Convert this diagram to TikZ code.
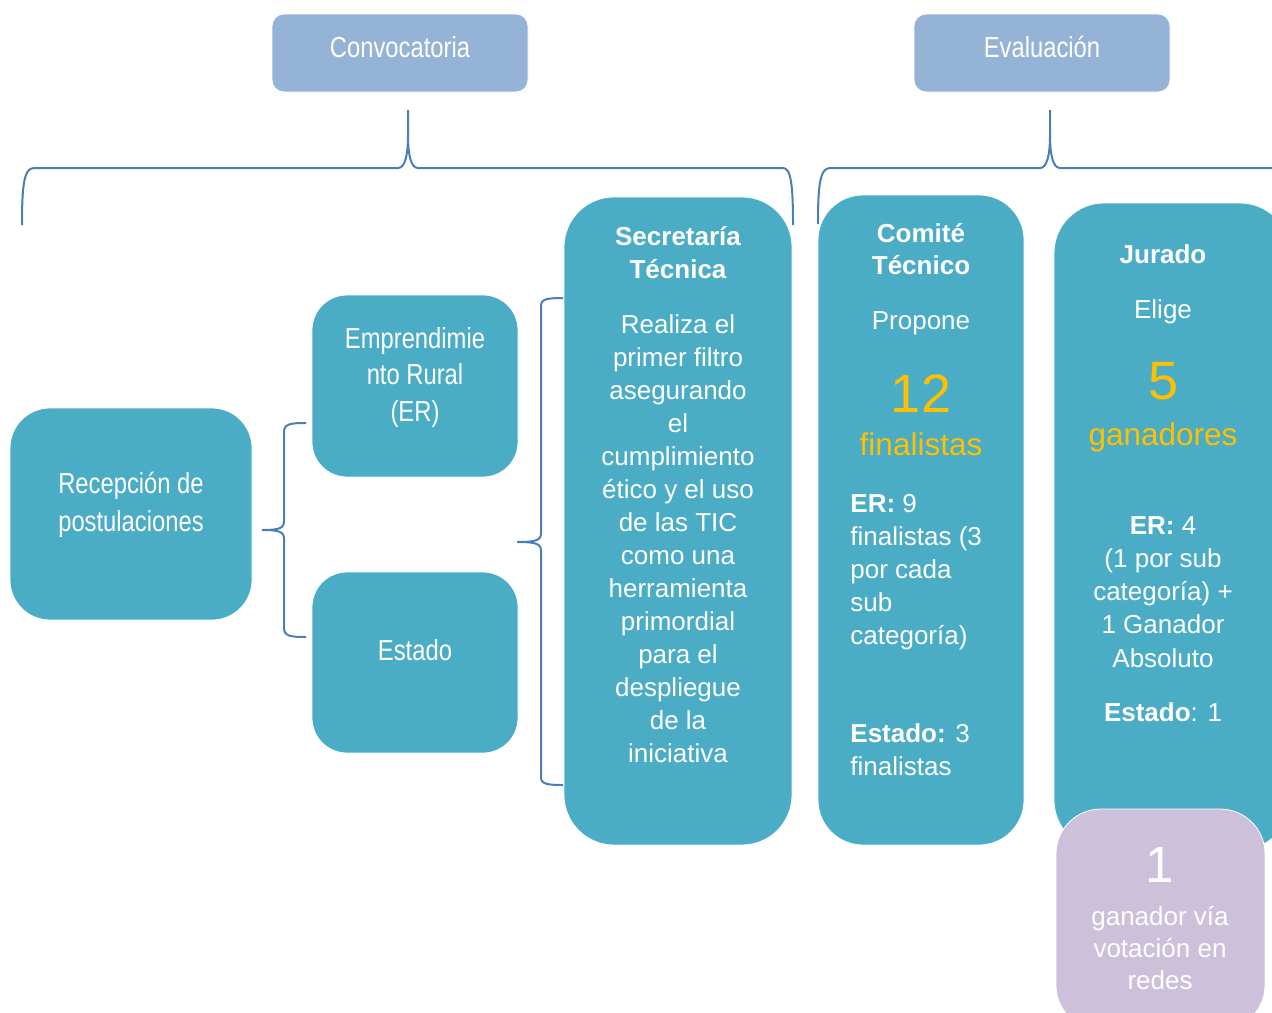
\documentclass[tikz,border=0pt]{standalone}
\usepackage{fontspec}
\setmainfont{Liberation Sans}
\newfontfamily\narrowfont[FakeStretch=0.82]{Liberation Sans}
\definecolor{boxteal}{HTML}{4BACC6}
\definecolor{headblue}{HTML}{95B3D7}
\definecolor{lilac}{HTML}{CCC0DA}
\definecolor{goldy}{HTML}{FFC000}
\definecolor{braceblue}{HTML}{4A7EBB}
\begin{document}
\begin{tikzpicture}[x=0.5pt,y=-0.5pt,
  tbox/.style={draw=white,line width=0.4pt,fill=boxteal,inner sep=0pt},
  hbox/.style={draw=white,line width=0.4pt,fill=headblue,inner sep=0pt,rounded corners=6pt,minimum width=128pt,minimum height=39pt},
  txt/.style={anchor=base,text=white,inner sep=0pt,font=\fontsize{13}{15}\selectfont},
  ltxt/.style={txt,anchor=base west},
  ntxt/.style={anchor=base,text=white,inner sep=0pt,font=\narrowfont\fontsize{14.5}{17}\selectfont},
  gtxt/.style={anchor=base,text=goldy,inner sep=0pt,font=\fontsize{15.75}{18}\selectfont},
  bignum/.style={anchor=base,inner sep=0pt,font=\fontsize{27}{30}\selectfont},
  brace/.style={draw=braceblue,line width=1pt}]
\useasboundingbox (0,0) rectangle (1272,1012);
\clip (0,0) rectangle (1272,1012);

% header boxes
\node[hbox] (conv) at (400,53) {};
\node[ntxt] (convt) at (400,57) {Convocatoria};
\node[hbox] (eval) at (1042,53) {};
\node[ntxt] (evalt) at (1042,57) {Evaluación};

% left boxes
\node[tbox,rounded corners=20pt,minimum width=121pt,minimum height=106pt] (rec) at (131,514) {};
\node[ntxt] (rect1) at (131,493) {Recepción de};
\node[ntxt] (rect2) at (131,531) {postulaciones};

\node[tbox,rounded corners=17.5pt,minimum width=103pt,minimum height=91pt] (emp) at (415,386) {};
\node[ntxt] (empt1) at (415,348) {Emprendimie};
\node[ntxt] (empt2) at (415,384) {nto Rural};
\node[ntxt] (empt3) at (415,421) {(ER)};

\node[tbox,rounded corners=17.5pt,minimum width=103pt,minimum height=90.5pt] (est) at (415,662.5) {};
\node[ntxt] (estt) at (415,660) {Estado};

% Secretaria
\node[tbox,rounded corners=25pt,minimum width=114pt,minimum height=324pt] (sec) at (678,521) {};
\node[txt,font=\bfseries\fontsize{13}{15}\selectfont] (sech1) at (678,245) {Secretaría};
\node[txt,font=\bfseries\fontsize{13}{15}\selectfont] (sech2) at (678,278) {Técnica};
\foreach \t [count=\i] in {{Realiza el},{primer filtro},{asegurando},{el},{cumplimiento},{ético y el uso},{de las TIC},{como una},{herramienta},{primordial},{para el},{despliegue},{de la},{iniciativa}}
  \node[txt] (sec\i) at (678,{333+33*(\i-1)}) {\t};

% Comite
\node[tbox,rounded corners=22.5pt,minimum width=103pt,minimum height=325pt] (com) at (921,520) {};
\node[txt,font=\bfseries\fontsize{13}{15}\selectfont] (comh1) at (921,242) {Comité};
\node[txt,font=\bfseries\fontsize{13}{15}\selectfont] (comh2) at (921,274) {Técnico};
\node[txt] (comp) at (921,329) {Propone};
\node[bignum,text=goldy] (comn) at (921,412) {12};
\node[gtxt] (comf) at (921,455) {finalistas};
\foreach \t [count=\i] in {{\textbf{ER:} 9},{finalistas (3},{por cada},{sub},{categoría)}}
  \node[ltxt] (comer\i) at (850,{512+33*(\i-1)}) {\t};
\node[ltxt] (comes1) at (850,742) {\textbf{Estado:} 3};
\node[ltxt] (comes2) at (850,775) {finalistas};

% Jurado
\node[tbox,rounded corners=25pt,minimum width=118pt,minimum height=323.5pt] (jur) at (1172,526.5) {};
\node[txt,font=\bfseries\fontsize{13}{15}\selectfont] (jurh) at (1163,263) {Jurado};
\node[txt] (jure) at (1163,318) {Elige};
\node[bignum,text=goldy] (jurn) at (1163,399) {5};
\node[gtxt] (jurg) at (1163,445) {ganadores};
\foreach \t [count=\i] in {{\textbf{ER:} 4},{(1 por sub},{categoría) +},{1 Ganador},{Absoluto}}
  \node[txt] (jurer\i) at (1163,{534+33.3*(\i-1)}) {\t};
\node[txt] (jures) at (1163,721) {\textbf{Estado}: 1};

% votacion
\node[tbox,fill=lilac,rounded corners=22.5pt,minimum width=104.5pt,minimum height=110.5pt] (pur) at (1160.5,919.5) {};
\node[anchor=base,inner sep=0pt,text=white,font=\fontsize{25.5}{28}\selectfont] (purn) at (1160,882) {1};
\node[txt] (pur1) at (1160,925) {ganador vía};
\node[txt] (pur2) at (1160,957) {votación en};
\node[txt] (pur3) at (1160,989) {redes};

% braces
\coordinate (b1t) at (306,423);
\coordinate (b1tip) at (262,530);
\coordinate (b1b) at (306,637);
\draw[brace] (b1t) .. controls (290,423) and (284,424) .. (284,432) -- (284,521)
  .. controls (284,528) and (280,530) .. (b1tip)
  .. controls (280,530) and (284,532) .. (284,539) -- (284,628)
  .. controls (284,636) and (290,637) .. (b1b);

\coordinate (b2t) at (563,298);
\coordinate (b2tip) at (517,542);
\coordinate (b2b) at (563,785);
\draw[brace] (b2t) .. controls (547,298) and (541,299) .. (541,306) -- (541,533)
  .. controls (541,540) and (537,542) .. (b2tip)
  .. controls (537,542) and (541,544) .. (541,551) -- (541,777)
  .. controls (541,784) and (547,785) .. (b2b);

\coordinate (t1l) at (22,225);
\coordinate (t1tip) at (408,110);
\coordinate (t1r) at (793,225);
\draw[brace] (t1l) .. controls (22,185) and (24,168) .. (34,168) -- (398,168)
  .. controls (405,168) and (408,155) .. (408,135) -- (t1tip);
\draw[brace] (408,135) .. controls (408,155) and (411,168) .. (418,168) -- (783,168)
  .. controls (791,168) and (793,185) .. (t1r);

\coordinate (t2l) at (818,224);
\coordinate (t2tip) at (1050,110);
\coordinate (t2r) at (1290,168);
\draw[brace] (t2l) .. controls (818,185) and (820,168) .. (830,168) -- (1040,168)
  .. controls (1047,168) and (1050,155) .. (1050,135) -- (t2tip);
\draw[brace] (1050,135) .. controls (1050,155) and (1053,168) .. (1060,168) -- (t2r);
\end{tikzpicture}
\end{document}
